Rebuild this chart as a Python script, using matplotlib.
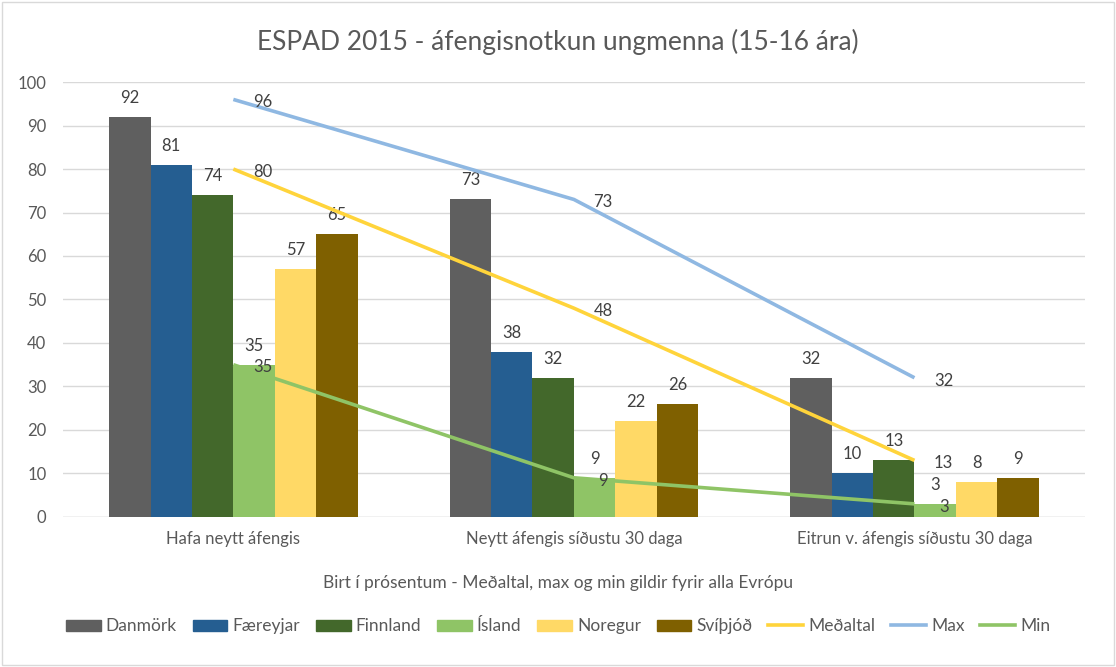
import numpy as np
import matplotlib
matplotlib.use('Agg')
import matplotlib.pyplot as plt
from matplotlib.patches import Rectangle
from matplotlib.lines import Line2D

plt.rcParams['font.family'] = ['Lato', 'DejaVu Sans']

# DATA
categories = ['Hafa neytt áfengis', 'Neytt áfengis síðustu 30 daga', 'Eitrun v. áfengis síðustu 30 daga']
bar_names = ['Danmörk', 'Færeyjar', 'Finnland', 'Ísland', 'Noregur', 'Svíþjóð']
danmork = [92, 73, 32]
faereyjar = [81, 38, 10]
finnland = [74, 32, 13]
island = [35, 9, 3]
noregur = [57, 22, 8]
svithjod = [65, 26, 9]
medaltal = [80, 48, 13]
max_vals = [96, 73, 32]
min_vals = [35, 9, 3]

bar_data = [danmork, faereyjar, finnland, island, noregur, svithjod]
bar_colors = ['#5f5f5f', '#255e91', '#43682b', '#8fc466', '#ffd966', '#7f6000']
line_names = ['Meðaltal', 'Max', 'Min']
line_data = [medaltal, max_vals, min_vals]
line_colors = ['#ffd43b', '#8fb8e2', '#8fc466']

txt = '#404040'
tick_col = '#595959'

fig = plt.figure(figsize=(11.16, 6.67), dpi=100)
ax = fig.add_axes([0.0565, 0.225, 0.9155, 0.652])

x = np.arange(len(categories))
w = 0.1216
for i, (name, vals, c) in enumerate(zip(bar_names, bar_data, bar_colors)):
    bars = ax.bar(x + (i - 2.5) * w, vals, w, color=c, label=name, zorder=2)
    ax.bar_label(bars, padding=8, fontsize=12, color=txt)

for name, vals, c in zip(line_names, line_data, line_colors):
    ax.plot(x, vals, color=c, lw=2.6, label=name, zorder=3, solid_capstyle='butt')
    for xi, v in zip(x, vals):
        ax.annotate(str(v), (xi, v), xytext=(21, -2), textcoords='offset points',
                    ha='center', va='center', fontsize=12, color=txt, zorder=4)

ax.set_xlim(-0.5, 2.5)
ax.set_ylim(0, 100)
ax.set_yticks(range(0, 101, 10))
ax.set_xticks(x)
ax.set_xticklabels(categories)
ax.tick_params(length=0, labelsize=12, colors=tick_col)
ax.tick_params(axis='x', pad=10)
ax.tick_params(axis='y', pad=12)
ax.grid(axis='y', color='#d9d9d9', lw=1, zorder=0)
for s in ax.spines.values():
    s.set_visible(False)
ax.axhline(0, color='#d9d9d9', lw=1, zorder=1)

fig.text(0.5, 0.937, 'ESPAD 2015 - áfengisnotkun ungmenna (15-16 ára)', ha='center',
         va='center', fontsize=19, color=tick_col)
fig.text(0.5, 0.126, 'Birt í prósentum - Meðaltal, max og min gildir fyrir alla Evrópu',
         ha='center', va='center', fontsize=12.5, color=tick_col)

handles = [Rectangle((0, 0), 1, 1, color=c) for c in bar_colors]
handles += [Line2D([0], [0], color=c, lw=2.6) for c in line_colors]
fig.legend(handles, bar_names + line_names, loc='center', bbox_to_anchor=(0.5, 0.061),
           ncol=9, frameon=False, fontsize=12.5, labelcolor=tick_col, handlelength=2.0,
           handleheight=0.6, handletextpad=0.3, columnspacing=0.9)

fig.add_artist(Rectangle((0.002, 0.003), 0.996, 0.994, transform=fig.transFigure,
                         fill=False, ec='#d9d9d9', lw=1))

fig.savefig('out.png', dpi=100)
